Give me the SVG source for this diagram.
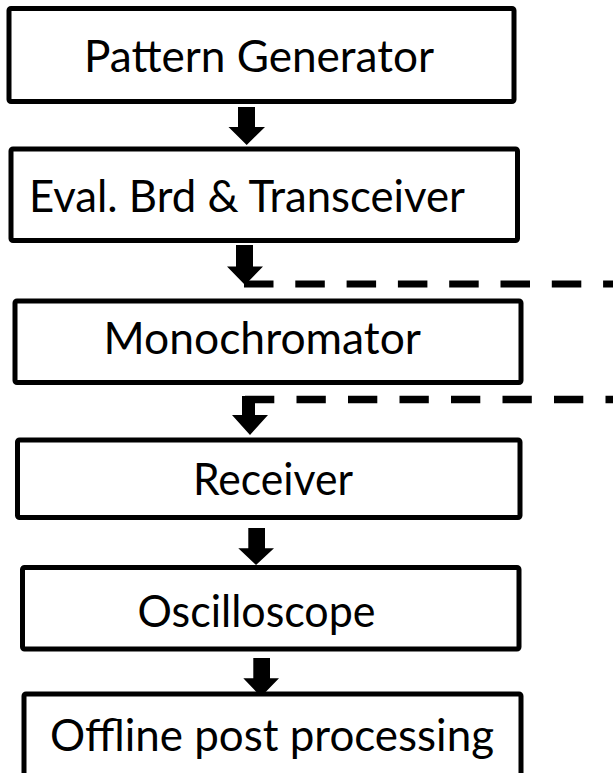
<svg xmlns="http://www.w3.org/2000/svg" width="613" height="773" viewBox="0 0 613 773">
<style>
.box{fill:#fff;stroke:#000;stroke-width:5;stroke-linejoin:round}
.lbl{font-family:Lato,"Open Sans",sans-serif;font-size:44px;fill:#000;text-anchor:start}
.arr{fill:#000}
.dash{stroke:#000;fill:none}
</style>
<rect width="613" height="773" fill="#fff"/>
<g id="connectors">
<polygon class="arr" points="238,107 255,107 255,127 265,127 246.7,145 228.5,127 238,127"/>
<polygon class="arr" points="236,245 253,245 253,266.5 263,266.5 245,285 227,266.5 236,266.5"/>
<line class="dash" x1="244" y1="284" x2="613" y2="284" stroke-width="7" stroke-dasharray="29.5 21.8"/>
<polygon class="arr" points="242,396 255,396 255,415 268,415 250,435 232,415 242,415"/>
<line class="dash" x1="245" y1="399.5" x2="613" y2="399.5" stroke-width="7.5" stroke-dasharray="29.3 22.2"/>
<polygon class="arr" points="248.3,528 265,528 265,548.3 274,548.3 256,565 238.3,548.3 248.3,548.3"/>
<polygon class="arr" points="253.3,658 270,658 270,678.3 279,678.3 261,696.7 243.3,678.3 253.3,678.3"/>
</g>
<g id="pattern-generator">
<rect class="box" x="9" y="8.5" width="505" height="93" rx="2"/>
<text class="lbl" x="84" y="72" textLength="350" lengthAdjust="spacingAndGlyphs">Pattern Generator</text>
</g>
<g id="eval-board">
<rect class="box" x="11" y="149" width="506.5" height="91.5" rx="2"/>
<text class="lbl" x="29" y="212" textLength="436" lengthAdjust="spacingAndGlyphs">Eval. Brd &amp; Transceiver</text>
</g>
<g id="monochromator">
<rect class="box" x="15" y="301" width="506" height="81.5" rx="2"/>
<text class="lbl" x="103.5" y="354" textLength="317.5" lengthAdjust="spacingAndGlyphs">Monochromator</text>
</g>
<g id="receiver">
<rect class="box" x="17.5" y="440" width="502.5" height="77.5" rx="2"/>
<text class="lbl" x="193" y="495" textLength="160" lengthAdjust="spacingAndGlyphs">Receiver</text>
</g>
<g id="oscilloscope">
<rect class="box" x="22.5" y="567.5" width="496.5" height="81.5" rx="2"/>
<text class="lbl" x="137.5" y="627" textLength="238" lengthAdjust="spacingAndGlyphs">Oscilloscope</text>
</g>
<g id="offline">
<rect class="box" x="24" y="694" width="497" height="110" rx="2"/>
<text class="lbl" x="50" y="751" textLength="444" lengthAdjust="spacingAndGlyphs">Offline post processing</text>
</g>
</svg>
